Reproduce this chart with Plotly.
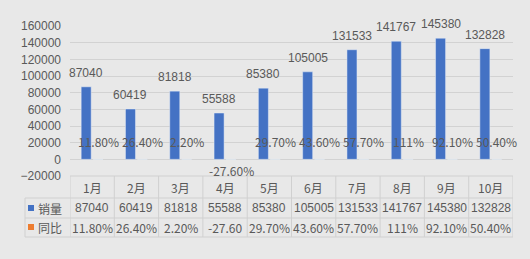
import plotly.graph_objects as go

# ---- data ----
months = ["1月", "2月", "3月", "4月", "5月", "6月", "7月", "8月", "9月", "10月"]
sales = [87040, 60419, 81818, 55588, 85380, 105005, 131533, 141767, 145380, 132828]
yoy = [11.8, 26.4, 2.2, -27.6, 29.7, 43.6, 57.7, 111, 92.1, 50.4]
yoy_labels = ["11.80%", "26.40%", "2.20%", "-27.60%", "29.70%", "43.60%",
              "57.70%", "111%", "92.10%", "50.40%"]
series_names = ["销量", "同比"]
title_text = "小鹏汽车月度销量"

BLUE = "#4472C4"
ORANGE = "#ED7D31"
BG = "#e8e8e8"
GRID = "#d2d2d2"
TXT = "#595959"
FONT = "Liberation Sans, Noto Sans CJK SC"
CJK = "Noto Sans CJK SC"

fig = go.Figure()
fig.add_trace(go.Bar(x=months, y=sales, name=series_names[0], marker_color=BLUE,
                     width=0.226, offset=-0.248))
fig.add_trace(go.Bar(x=months, y=[v / 100 for v in yoy], name=series_names[1],
                     marker_color=ORANGE, width=0.226, offset=0.02))

ann = []
# value labels
for m, v in zip(months, sales):
    ann.append(dict(x=m, y=v, xref="x", yref="y", text=str(v), showarrow=False,
                    yanchor="bottom", yshift=5, xshift=-6,
                    font=dict(size=12, color=TXT, family=FONT)))
# yoy labels
for m, v, s in zip(months, yoy, yoy_labels):
    if v >= 0:
        ann.append(dict(x=m, y=v / 100, xref="x", yref="y", text=s, showarrow=False,
                        yanchor="bottom", yshift=7, xshift=6,
                        font=dict(size=12, color=TXT, family=CJK)))
    else:
        ann.append(dict(x=m, y=v / 100, xref="x", yref="y", text=s, showarrow=False,
                        yanchor="top", yshift=-1, xshift=6,
                        font=dict(size=12, color=TXT, family=CJK)))

# data table
plot_top, plot_bot = 26, 176
ph = plot_bot - plot_top
def py(p):
    return (plot_bot - p) / ph

rows_y = [py(187), py(208), py(227)]
row_lines = [py(176), py(198), py(218), py(237)]
table_yoy = [s if len(s) <= 6 else s[:6] for s in yoy_labels]
for i, m in enumerate(months):
    ann.append(dict(x=m, y=rows_y[0], xref="x", yref="paper", text=m, showarrow=False,
                    yanchor="middle", xanchor="center",
                    font=dict(size=12, color=TXT, family=CJK)))
    ann.append(dict(x=m, y=rows_y[1], xref="x", yref="paper", text=str(sales[i]),
                    showarrow=False, yanchor="middle", xanchor="center",
                    font=dict(size=12, color=TXT, family=FONT)))
    ann.append(dict(x=m, y=rows_y[2], xref="x", yref="paper", text=table_yoy[i],
                    showarrow=False, yanchor="middle", xanchor="center",
                    font=dict(size=12, color=TXT, family=CJK)))

leg_left = (25 - 70) / 443
for k, (name, col) in enumerate(zip(series_names, [BLUE, ORANGE])):
    ann.append(dict(x=leg_left + 11 / 443, y=rows_y[k + 1], xref="paper", yref="paper",
                    text=name, showarrow=False, xanchor="left", yanchor="middle",
                    font=dict(size=12, color=TXT, family=CJK)))

shapes = []
line = dict(color="#d0d0d0", width=1)
# horizontal lines
shapes.append(dict(type="line", xref="paper", yref="paper", x0=0, x1=1,
                   y0=row_lines[0], y1=row_lines[0], line=line))
for yl in row_lines[1:]:
    shapes.append(dict(type="line", xref="paper", yref="paper", x0=leg_left, x1=1,
                       y0=yl, y1=yl, line=line))
# vertical lines
for i in range(len(months) + 1):
    shapes.append(dict(type="line", xref="x", yref="paper", x0=i - 0.5, x1=i - 0.5,
                       y0=row_lines[0], y1=row_lines[3], line=line))
shapes.append(dict(type="line", xref="paper", yref="paper", x0=leg_left, x1=leg_left,
                   y0=row_lines[1], y1=row_lines[3], line=line))
# legend keys
for k, col in enumerate([BLUE, ORANGE]):
    yc = rows_y[k + 1]
    shapes.append(dict(type="rect", xref="paper", yref="paper",
                       x0=leg_left + 3 / 443, x1=leg_left + 9 / 443,
                       y0=yc - 3 / ph, y1=yc + 3 / ph, fillcolor=col, line=dict(width=0)))

# title (mostly cropped at top, as in reference)
ann.append(dict(x=(265 - 70) / 443, y=py(3), xref="paper", yref="paper", text=title_text,
                showarrow=False, yanchor="bottom", xanchor="center",
                font=dict(size=18, color="#222222", family=CJK)))

fig.update_layout(
    width=530, height=259,
    margin=dict(l=70, r=17, t=26, b=83),
    paper_bgcolor=BG, plot_bgcolor=BG,
    showlegend=False,
    barmode="overlay",
    annotations=ann, shapes=shapes,
    font=dict(family=FONT, size=12, color=TXT),
)
fig.update_xaxes(range=[-0.5, 9.5], showticklabels=False, showgrid=False,
                 zeroline=False, showline=False, ticks="")
fig.update_yaxes(range=[-20000, 160000], dtick=20000, tickformat="d",
                 showgrid=True, gridcolor=GRID,
                 zeroline=True, zerolinecolor=GRID, zerolinewidth=1, showline=False,
                 tickfont=dict(size=12, color=TXT, family=FONT),
                 ticklabelstandoff=8)

fig.write_html("out.html")
